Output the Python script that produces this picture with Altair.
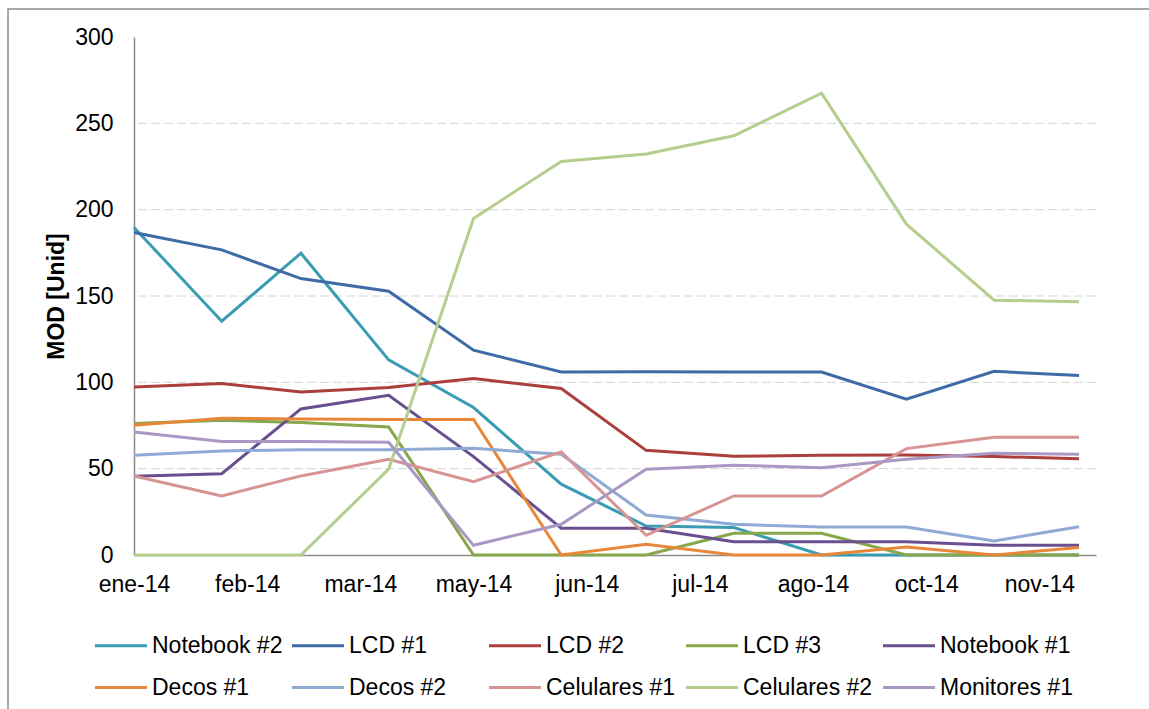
import altair as alt
import pandas as pd

# Months (first day of each month, 2014)
MESES = [
    "2014-01-01", "2014-02-01", "2014-03-01", "2014-04-01",
    "2014-05-01", "2014-06-01", "2014-07-01", "2014-08-01",
    "2014-09-01", "2014-10-01", "2014-11-01", "2014-12-01",
]

SERIES = [
    "Notebook #2", "LCD #1", "LCD #2", "LCD #3", "Notebook #1",
    "Decos #1", "Decos #2", "Celulares #1", "Celulares #2", "Monitores #1",
]

COLORES = [
    "#3A9CB2", "#3E6BA6", "#AA3F3C", "#86A74A", "#6A4F90",
    "#E8873A", "#8EAAD5", "#D69493", "#B5CE8E", "#A898C3",
]

NOTEBOOK_2 = [189.7, 135.4, 174.8, 113.0, 85.4, 41.0, 16.8, 15.9, 0, 0, 0, 0]
LCD_1 = [186.8, 176.7, 160.1, 152.8, 118.6, 106.0, 106.2, 106.0, 106.0, 90.2, 106.4, 103.9]
LCD_2 = [97.3, 99.3, 94.4, 97.0, 102.2, 96.4, 60.6, 57.2, 57.8, 57.9, 57.0, 55.8]
LCD_3 = [76.1, 78.0, 76.7, 74.2, 0, 0, 0, 12.6, 12.6, 0, 0, 0]
NOTEBOOK_1 = [45.6, 47.1, 84.6, 92.5, 57.0, 15.5, 15.5, 7.7, 7.7, 7.7, 5.6, 5.6]
DECOS_1 = [75.1, 79.2, 78.8, 78.5, 78.5, 0, 6.2, 0, 0, 4.6, 0, 4.3]
DECOS_2 = [57.8, 60.3, 61.0, 61.0, 61.8, 58.3, 23.2, 17.8, 16.2, 16.2, 8.1, 16.4]
CELULARES_1 = [45.8, 34.2, 45.8, 55.4, 42.5, 59.7, 11.4, 34.2, 34.2, 61.6, 68.2, 68.2]
CELULARES_2 = [0, 0, 0, 49.7, 194.9, 227.9, 232.2, 242.8, 267.5, 191.6, 147.6, 146.6]
MONITORES_1 = [71.3, 65.7, 65.7, 65.3, 5.6, 17.8, 49.7, 52.0, 50.6, 55.4, 58.9, 58.3]

VALORES = [
    NOTEBOOK_2, LCD_1, LCD_2, LCD_3, NOTEBOOK_1,
    DECOS_1, DECOS_2, CELULARES_1, CELULARES_2, MONITORES_1,
]

# Date axis: major unit of 40 days starting on 1 Jan 2014
TICK_FECHAS = [
    "2014-01-01", "2014-02-10", "2014-03-22", "2014-05-01", "2014-06-10",
    "2014-07-20", "2014-08-29", "2014-10-08", "2014-11-17",
]
TICK_ETIQUETAS = [
    "ene-14", "feb-14", "mar-14", "may-14", "jun-14",
    "jul-14", "ago-14", "oct-14", "nov-14",
]
X_FIN = "2014-12-07"
Y_TICKS = [0, 50, 100, 150, 200, 250, 300]
Y_GRID = [50, 100, 150, 200, 250]

FUENTE = "Liberation Sans, Arial, sans-serif"


def ms(fecha):
    return int(pd.Timestamp(fecha, tz="UTC").value // 10**6)


filas = []
for nombre, serie in zip(SERIES, VALORES):
    for fecha, v in zip(MESES, serie):
        filas.append({"fecha": fecha, "serie": nombre, "mod": v})
datos = pd.DataFrame(filas)

t0 = ms(TICK_FECHAS[0])
paso = 40 * 86400000
etiquetas_js = "[" + ",".join("'%s'" % e for e in TICK_ETIQUETAS) + "]"
label_expr = "%s[round((datum.value - %d) / %d)]" % (etiquetas_js, t0, paso)

escala_x = alt.Scale(type="utc", domain=[t0, ms(X_FIN)])
escala_y = alt.Scale(domain=[0, 300], nice=False)

eje_y = alt.Axis(
    values=Y_TICKS,
    title="MOD [Unid]",
    titleFontSize=23,
    titleFontWeight="bold",
    titleColor="#000000",
    titleFont=FUENTE,
    titlePadding=6,
    grid=False,
    ticks=False,
    domainColor="#8C8C8C",
    domainWidth=1.5,
    labelFontSize=23,
    labelColor="#000000",
    labelPadding=21,
    labelFont=FUENTE,
)

# Dashed horizontal gridlines (none at 0 or at the top of the axis)
rejilla = alt.Chart(pd.DataFrame({"mod": Y_GRID})).mark_rule(
    color="#D4D4D4", strokeWidth=1, strokeDash=[9, 4]
).encode(
    y=alt.Y("mod:Q", scale=escala_y, axis=eje_y, title="MOD [Unid]"),
)

lineas = alt.Chart(datos).mark_line(strokeWidth=3).encode(
    x=alt.X(
        "fecha:T",
        scale=escala_x,
        axis=alt.Axis(
            values=[ms(f) for f in TICK_FECHAS],
            labelExpr=label_expr,
            labelFlush=False,
            labelOverlap=False,
            title=None,
            grid=False,
            ticks=False,
            domainColor="#8C8C8C",
            domainWidth=1.5,
            labelFontSize=23,
            labelColor="#000000",
            labelPadding=18,
            labelFont=FUENTE,
        ),
    ),
    y=alt.Y("mod:Q", scale=escala_y, axis=eje_y, title="MOD [Unid]"),
    color=alt.Color(
        "serie:N",
        title=None,
        scale=alt.Scale(domain=SERIES, range=COLORES),
        sort=SERIES,
        legend=alt.Legend(
            orient="none",
            direction="horizontal",
            legendX=-39,
            legendY=597,
            columns=5,
            gridAlign="all",
            padding=0,
            symbolType="M-4,0H4",
            symbolSize=169,
            symbolStrokeWidth=3,
            symbolOffset=14.5,
            labelOffset=19.5,
            labelFontSize=23,
            labelFont=FUENTE,
            labelColor="#000000",
            labelLimit=300,
            rowPadding=18,
            columnPadding=1,
        ),
    ),
    order=alt.Order("fecha:T"),
)

# Chart-area frame
marco = alt.Chart(pd.DataFrame({"k": [0]})).mark_rect(
    fill="transparent", stroke="#8C8C8C", strokeWidth=1.5
).encode(
    x=alt.value(-126),
    y=alt.value(-28),
    x2=alt.value(1040),
    y2=alt.value(700),
)

chart = alt.layer(marco, rejilla, lineas).properties(
    width=962,
    height=518,
    padding={"left": 134, "top": 37, "right": 53, "bottom": 154},
    autosize=alt.AutoSizeParams(type="none"),
    background="#FFFFFF",
).configure(
    font=FUENTE,
).configure_view(
    stroke=None,
)

chart.save("out.html", embed_options={"renderer": "svg", "actions": False})
